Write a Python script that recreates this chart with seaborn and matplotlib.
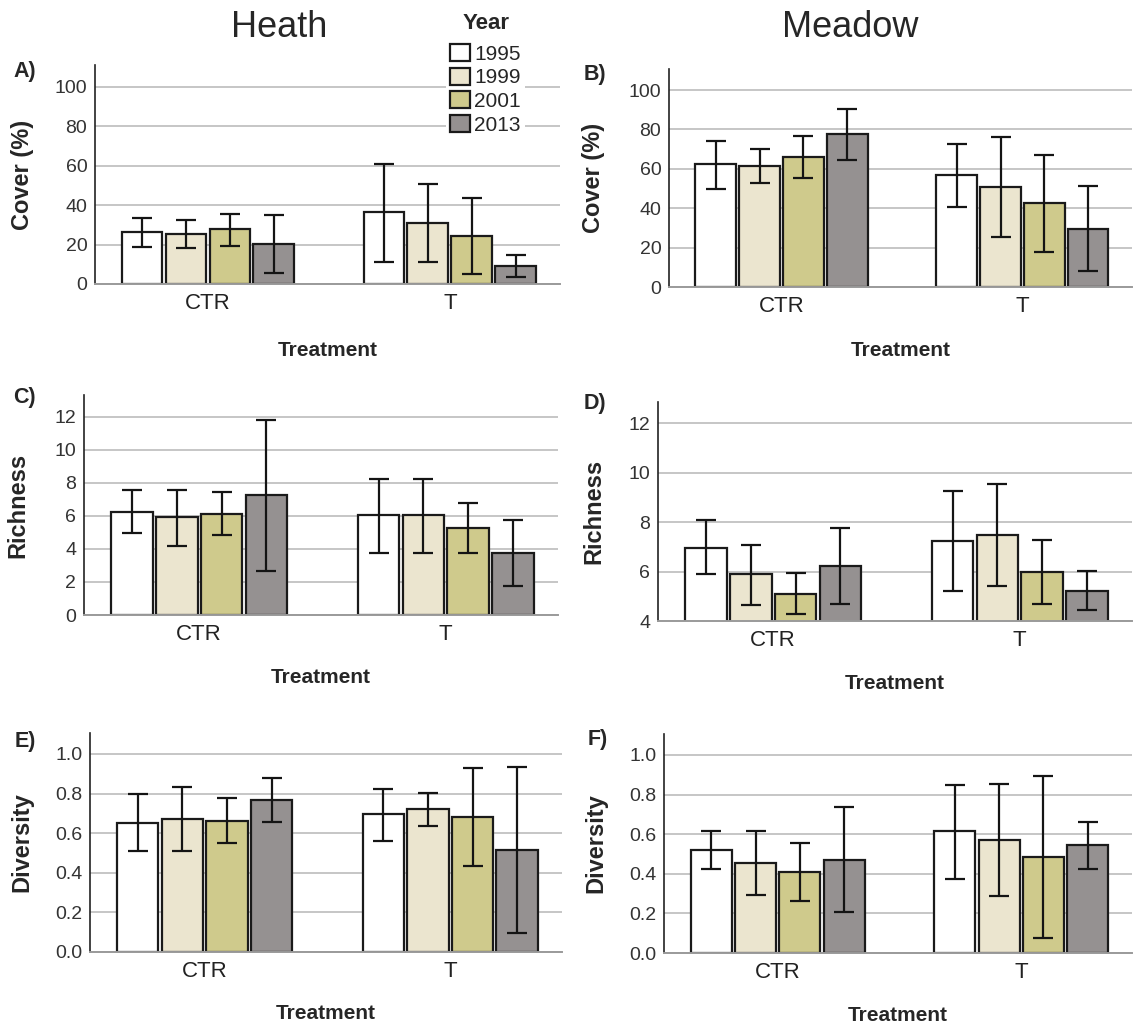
import matplotlib
matplotlib.use("Agg")
import matplotlib.pyplot as plt
import seaborn as sns
import pandas as pd
from matplotlib import transforms
from matplotlib.container import BarContainer

sns.set_style("white")
plt.rcParams["font.family"] = ["Liberation Sans", "DejaVu Sans"]

years = ["1995", "1999", "2001", "2013"]
treatments = ["CTR", "T"]
year_colors = ["#ffffff", "#ebe5cf", "#cfca8c", "#959191"]

# order: CTR 1995,1999,2001,2013, T 1995,1999,2001,2013
heath_cover_mean = [26.2, 25.2, 27.7, 20.3, 36.3, 30.9, 24.3, 9.1]
heath_cover_lo = [18.6, 18.1, 19.4, 5.4, 11.3, 11.3, 4.9, 3.4]
heath_cover_hi = [33.3, 32.4, 35.6, 35.0, 60.8, 50.7, 43.6, 14.5]

meadow_cover_mean = [62.3, 61.5, 66.2, 77.5, 56.9, 50.8, 42.6, 29.7]
meadow_cover_lo = [49.7, 52.9, 55.1, 64.7, 40.7, 25.2, 17.7, 8.1]
meadow_cover_hi = [74.3, 70.3, 76.9, 90.4, 72.8, 76.2, 67.1, 51.4]

heath_rich_mean = [6.23, 5.91, 6.13, 7.25, 6.03, 6.03, 5.26, 3.77]
heath_rich_lo = [4.94, 4.21, 4.86, 2.69, 3.77, 3.77, 3.77, 1.78]
heath_rich_hi = [7.59, 7.59, 7.43, 11.84, 8.26, 8.26, 6.78, 5.75]

meadow_rich_mean = [6.97, 5.88, 5.11, 6.23, 7.23, 7.49, 5.99, 5.23]
meadow_rich_lo = [5.89, 4.64, 4.30, 4.70, 5.23, 5.43, 4.69, 4.45]
meadow_rich_hi = [8.07, 7.09, 5.95, 7.77, 9.24, 9.54, 7.28, 6.03]

heath_div_mean = [0.654, 0.671, 0.663, 0.767, 0.695, 0.720, 0.680, 0.514]
heath_div_lo = [0.511, 0.509, 0.550, 0.656, 0.563, 0.637, 0.432, 0.096]
heath_div_hi = [0.798, 0.831, 0.776, 0.879, 0.825, 0.801, 0.929, 0.933]

meadow_div_mean = [0.521, 0.455, 0.408, 0.470, 0.614, 0.572, 0.486, 0.545]
meadow_div_lo = [0.423, 0.295, 0.261, 0.209, 0.376, 0.287, 0.076, 0.425]
meadow_div_hi = [0.617, 0.617, 0.558, 0.737, 0.850, 0.855, 0.895, 0.663]

W, H = 1134, 1032
fig = plt.figure(figsize=(W / 100, H / 100), dpi=100)


def make_df(mean):
    rows = []
    i = 0
    for t in treatments:
        for y in years:
            rows.append({"Treatment": t, "Year": y, "value": mean[i]})
            i += 1
    return pd.DataFrame(rows)


panels = [
    ("A)", heath_cover_mean, heath_cover_lo, heath_cover_hi, "Cover (%)",
     (95, 560, 65, 284), (0, 111), [0, 20, 40, 60, 80, 100], "{:.0f}", 34, 341, (13, 61)),
    ("B)", meadow_cover_mean, meadow_cover_lo, meadow_cover_hi, "Cover (%)",
     (669, 1132, 69, 287), (0, 110.7), [0, 20, 40, 60, 80, 100], "{:.0f}", 605, 341, (584, 64)),
    ("C)", heath_rich_mean, heath_rich_lo, heath_rich_hi, "Richness",
     (84, 558, 395, 615), (0, 13.33), [0, 2, 4, 6, 8, 10, 12], "{:.0f}", 29, 668, (13, 387)),
    ("D)", meadow_rich_mean, meadow_rich_lo, meadow_rich_hi, "Richness",
     (658, 1132, 402, 621), (4, 12.85), [4, 6, 8, 10, 12], "{:.0f}", 605, 674, (584, 393)),
    ("E)", heath_div_mean, heath_div_lo, heath_div_hi, "Diversity",
     (90, 562, 733, 952), (0, 1.106), [0, 0.2, 0.4, 0.6, 0.8, 1.0], "{:.1f}", 33, 1004, (15, 731)),
    ("F)", meadow_div_mean, meadow_div_lo, meadow_div_hi, "Diversity",
     (664, 1132, 734, 953), (0, 1.106), [0, 0.2, 0.4, 0.6, 0.8, 1.0], "{:.1f}", 607, 1006, (588, 729)),
]

axes = []
for k, (plab, mean, lo, hi, ylab, (l, r, t, b), ylim, ticks, fmt, ylx, xlt, pxy) in enumerate(panels):
    ax = fig.add_axes([l / W, 1 - b / H, (r - l) / W, (b - t) / H])
    axes.append(ax)
    df = make_df(mean)
    sns.barplot(data=df, x="Treatment", y="value", hue="Year", order=treatments,
                hue_order=years, palette=year_colors, saturation=1, errorbar=None,
                width=0.727, gap=0.07, edgecolor="#1a1a1a", linewidth=1.6,
                legend=(k == 0), ax=ax)
    bar_conts = [c for c in ax.containers if isinstance(c, BarContainer)]
    for hi_idx, cont in enumerate(bar_conts):
        for ti, bar in enumerate(cont.patches):
            idx = ti * len(years) + hi_idx
            xc = bar.get_x() + bar.get_width() / 2
            m = mean[idx]
            ax.errorbar([xc], [m], yerr=[[m - lo[idx]], [hi[idx] - m]], fmt="none",
                        ecolor="#141414", elinewidth=1.6, capsize=7.5, capthick=1.6, zorder=5)
    ax.set_xlim(-0.467, 1.455)
    ax.set_ylim(*ylim)
    ax.set_yticks(ticks)
    ax.set_yticklabels([fmt.format(v) for v in ticks])
    ax.set_axisbelow(True)
    ax.yaxis.grid(True, color="#c6c6c6", linewidth=1.4)
    ax.xaxis.grid(False)
    for s in ["top", "right"]:
        ax.spines[s].set_visible(False)
    ax.spines["left"].set_color("#222222")
    ax.spines["left"].set_linewidth(1.2)
    ax.spines["bottom"].set_color("#9a9a9a")
    ax.spines["bottom"].set_linewidth(1.4)
    ax.tick_params(axis="x", length=0, pad=6.5, labelsize=16, colors="#222222")
    ax.tick_params(axis="y", length=0, pad=5.5, labelsize=14, colors="#333333")
    ax.set_ylabel(ylab, fontsize=17, fontweight="bold")
    ax.set_xlabel("Treatment", fontsize=15, fontweight="bold")
    ax.yaxis.set_label_coords(ylx / W, 0.5,
                              transform=transforms.blended_transform_factory(fig.transFigure, ax.transAxes))
    ax.xaxis.set_label_coords(0.5, 1 - xlt / H,
                              transform=transforms.blended_transform_factory(ax.transAxes, fig.transFigure))
    fig.text(pxy[0] / W, 1 - pxy[1] / H, plab, fontsize=15.5, fontweight="bold", va="top", ha="left")

axA = axes[0]
handles, labels = axA.get_legend_handles_labels()
if axA.get_legend() is not None:
    axA.get_legend().remove()
fs = 15
leg = axA.legend(handles, labels, loc="upper left",
                 bbox_to_anchor=(446 / W, 1 - 40 / H),
                 bbox_transform=fig.transFigure, fontsize=fs,
                 frameon=True, facecolor="white", edgecolor="none", framealpha=1,
                 fancybox=False, borderpad=0.2, handlelength=0.96, handleheight=0.87,
                 handletextpad=0.2, labelspacing=0.19, borderaxespad=0)
for h in leg.legend_handles:
    h.set_edgecolor("#1a1a1a")
    h.set_linewidth(1.6)
fig.text(486 / W, 1 - 29 / H, "Year", fontsize=16, fontweight="bold", ha="center", va="baseline")

fig.text(279 / W, 1 - 37 / H, "Heath", fontsize=26, ha="center", va="baseline")
fig.text(850 / W, 1 - 37 / H, "Meadow", fontsize=26, ha="center", va="baseline")

fig.savefig("out.png", dpi=100, facecolor="white")
